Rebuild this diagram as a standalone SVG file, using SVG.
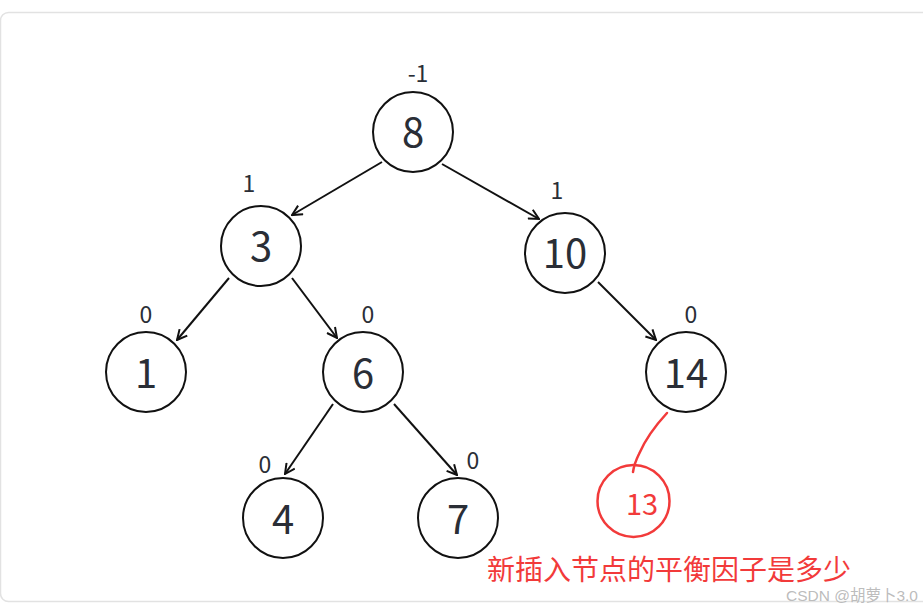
<svg xmlns="http://www.w3.org/2000/svg" width="923" height="604" viewBox="0 0 923 604">
<defs>
<style>
.node circle{fill:#fff;stroke:#111;stroke-width:2}
.node text{font-family:"Noto Sans CJK SC","Noto Sans",sans-serif;font-size:40px;fill:#2a2e36;text-anchor:middle}
.bf{font-family:"Noto Sans CJK SC","Noto Sans",sans-serif;font-size:23px;fill:#2a2e36;text-anchor:middle}
.edge{stroke:#111;stroke-width:2;fill:none;marker-end:url(#arr)}
.red{stroke:#f23a3a;fill:none;stroke-width:2.5}
</style>
<marker id="arr" viewBox="0 0 12 12" refX="11" refY="6" markerWidth="12" markerHeight="12" markerUnits="userSpaceOnUse" orient="auto">
<path d="M1,1 L11,6 L1,11" fill="none" stroke="#111" stroke-width="2"/>
</marker>
</defs>
<rect x="0.5" y="12.5" width="960" height="589" rx="8" fill="#fff" stroke="#e2e2e2" stroke-width="1.5"/>
<g id="connectors">
<line class="edge" x1="382" y1="162" x2="292" y2="215"/>
<line class="edge" x1="442" y1="164" x2="539" y2="219"/>
<line class="edge" x1="229" y1="278" x2="177" y2="340"/>
<line class="edge" x1="292" y1="278" x2="337" y2="338"/>
<line class="edge" x1="598" y1="282" x2="656" y2="340"/>
<line class="edge" x1="333" y1="404" x2="285" y2="474"/>
<line class="edge" x1="394" y1="404" x2="457" y2="475"/>
<path class="red" stroke-width="3" stroke-linecap="round" d="M667,413 C655,426 645,440 639,454 C636,460 634,465 633,472"/>
</g>
<g id="n8" class="node"><circle cx="413" cy="132" r="40"/><text x="413" y="147">8</text></g>
<g id="n3" class="node"><circle cx="261" cy="246" r="40"/><text x="261" y="261">3</text></g>
<g id="n10" class="node"><circle cx="565" cy="253" r="40"/><text x="565" y="268">10</text></g>
<g id="n1" class="node"><circle cx="146" cy="372" r="40"/><text x="146" y="388">1</text></g>
<g id="n6" class="node"><circle cx="363" cy="372" r="40"/><text x="363" y="388">6</text></g>
<g id="n14" class="node"><circle cx="686" cy="372" r="40"/><text x="686" y="388">14</text></g>
<g id="n4" class="node"><circle cx="283" cy="518" r="40"/><text x="283" y="534">4</text></g>
<g id="n7" class="node"><circle cx="458" cy="518" r="40"/><text x="458" y="534">7</text></g>
<g id="n13"><circle class="red" cx="633.5" cy="501" r="36"/><text x="642" y="515" font-family="Noto Sans CJK SC,Noto Sans,sans-serif" font-size="29" fill="#f23a3a" text-anchor="middle">13</text></g>
<g id="labels">
<text class="bf" x="418" y="82">-1</text>
<text class="bf" x="249" y="192">1</text>
<text class="bf" x="557" y="199">1</text>
<text class="bf" x="146" y="323">0</text>
<text class="bf" x="368" y="323">0</text>
<text class="bf" x="691" y="323">0</text>
<text class="bf" x="265" y="473">0</text>
<text class="bf" x="473" y="469">0</text>
</g>
<text x="487" y="580" font-family="Noto Sans CJK SC,sans-serif" font-size="28" fill="#f23a3a">新插入节点的平衡因子是多少</text>
<text x="918" y="601" text-anchor="end" font-family="Liberation Sans,Noto Sans CJK SC,sans-serif" font-size="15.5" fill="#b4b4b4" fill-opacity="0.9">CSDN @胡萝卜3.0</text>
</svg>
